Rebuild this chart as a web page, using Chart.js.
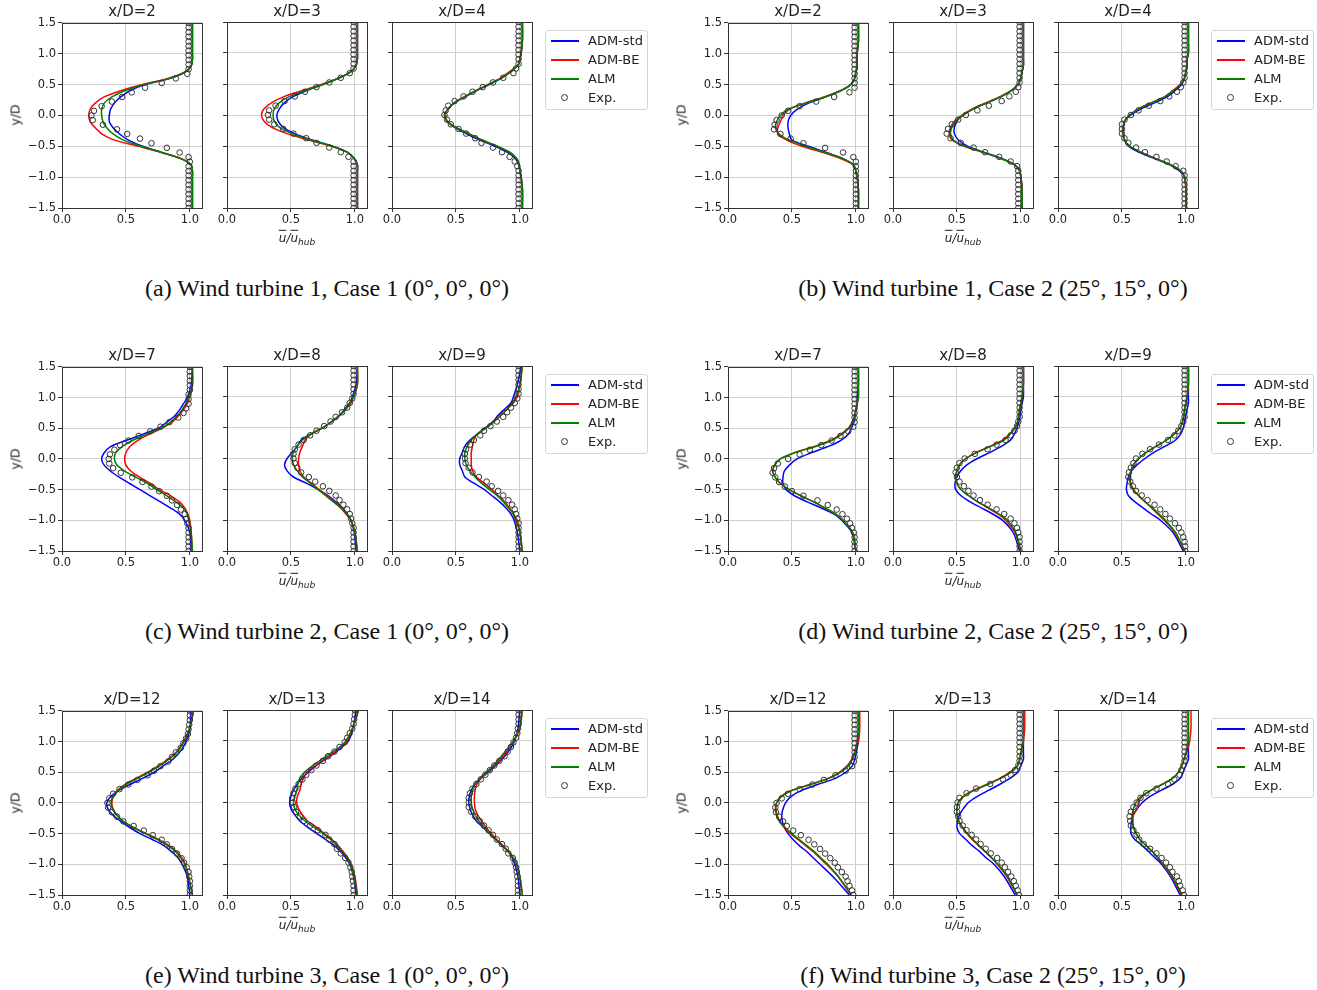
<!DOCTYPE html>
<html>
<head>
<meta charset="utf-8">
<script src="https://cdn.jsdelivr.net/npm/chart.js@4.4.1/dist/chart.umd.min.js"></script>
<style>
  body { margin: 0; background: #fff; width: 1317px; height: 990px; overflow: hidden; }
  #fig { position: relative; width: 1317px; height: 990px; }
  #fig canvas { position: absolute; }
  .lbl { position: absolute; transform: translate(-50%, -50%); white-space: nowrap; color: #222; font-family: "DejaVu Sans", sans-serif; }
  .title { font-size: 15px; }
  .ylab { font-size: 12.5px; transform: translate(-50%, -50%) rotate(-90deg); }
  .xlab { font-size: 12px; font-style: italic; }
  .xlab .ov { text-decoration: overline; }
  .xlab sub { font-size: 9px; }
  .cap { font-family: "Liberation Serif", "Times New Roman", serif; font-size: 24px; color: #111; }
  .legend { position: absolute; width: 101px; height: 78px; border: 1px solid #d6d6d6; border-radius: 3px; background: #fff; font-family: "DejaVu Sans", sans-serif; font-size: 13px; color: #222; }
  .legend .row { position: absolute; left: 0; height: 18px; width: 100%; }
  .legend .ln { position: absolute; left: 5px; width: 28px; height: 2px; top: 8px; }
  .legend .mk { position: absolute; left: 15px; top: 5px; width: 5px; height: 5px; border: 1px solid #333; border-radius: 50%; }
  .legend .tx { position: absolute; left: 42px; top: 0; line-height: 18px; }
</style>
</head>
<body>
<div id="fig"></div>
<script>
// series and axes
const seriesNames = ['ADM-std', 'ADM-BE', 'ALM', 'Exp.'];
const seriesColors = ['#0000ff', '#ff0000', '#008000', '#333333'];
const xTicks = [0, 0.5, 1.0];
const xTickLabels = ['0.0', '0.5', '1.0'];
const yTicks = [-1.5, -1.0, -0.5, 0, 0.5, 1.0, 1.5];
const yTickLabels = ['\u22121.5', '\u22121.0', '\u22120.5', '0.0', '0.5', '1.0', '1.5'];
const xMax = 1.095;

// y positions (y/D) of the simulated profiles and of the measurements
const lineY = [1.5, 1.2, 1.0, 0.9, 0.8, 0.7, 0.6, 0.5, 0.4, 0.3, 0.2, 0.1, 0.0,
  -0.1, -0.2, -0.3, -0.4, -0.5, -0.6, -0.7, -0.8, -0.9, -1.0, -1.2, -1.5];
const expY = [1.5, 1.425, 1.35, 1.275, 1.2, 1.125, 1.05, 0.975, 0.9, 0.825, 0.75, 0.675, 0.6, 0.525,
  0.45, 0.375, 0.3, 0.225, 0.15, 0.075, 0, -0.075, -0.15, -0.225, -0.3, -0.375, -0.45, -0.525,
  -0.6, -0.675, -0.75, -0.825, -0.9, -0.975, -1.05, -1.125, -1.2, -1.275, -1.35, -1.425, -1.5];

// (a) turbine 1, case 1
const a2Std = [1.02,1.02,1.02,1.02,1.01,0.96,0.84,0.65,0.53,0.46,0.41,0.38,0.37,0.37,0.40,0.45,0.52,0.63,0.78,0.93,1.01,1.02,1.02,1.02,1.02];
const a2Be  = [1.02,1.02,1.02,1.02,1.01,0.96,0.83,0.63,0.46,0.33,0.26,0.22,0.21,0.22,0.26,0.31,0.41,0.60,0.78,0.93,1.01,1.02,1.02,1.02,1.02];
const a2Alm = [1.02,1.02,1.02,1.02,1.01,0.96,0.84,0.64,0.49,0.39,0.33,0.31,0.31,0.32,0.35,0.40,0.48,0.62,0.78,0.93,1.01,1.02,1.02,1.02,1.02];
const a2Exp = [0.99,0.99,0.99,0.99,0.99,0.99,0.99,0.99,0.99,0.99,0.99,0.98,0.89,0.78,0.65,0.545,0.47,0.39,0.31,0.25,0.23,0.24,0.32,0.43,0.51,0.61,0.70,0.82,0.92,0.99,1.0,0.99,0.99,0.99,0.99,0.99,0.99,0.99,0.99,0.99,0.99];
const a3Std = [1.02,1.02,1.02,1.02,1.01,0.97,0.88,0.76,0.63,0.52,0.45,0.41,0.39,0.40,0.44,0.53,0.66,0.82,0.94,0.995,1.02,1.02,1.02,1.02,1.02];
const a3Be  = [1.02,1.02,1.02,1.02,1.01,0.97,0.88,0.75,0.60,0.45,0.35,0.29,0.27,0.29,0.35,0.47,0.63,0.81,0.94,0.995,1.02,1.02,1.02,1.02,1.02];
const a3Alm = [1.02,1.02,1.02,1.02,1.01,0.97,0.88,0.76,0.62,0.49,0.41,0.37,0.36,0.37,0.41,0.51,0.65,0.82,0.94,0.995,1.02,1.02,1.02,1.02,1.02];
const a3Exp = [0.99,0.99,0.99,0.99,0.99,0.99,0.99,0.99,0.99,0.99,0.99,0.96,0.89,0.80,0.70,0.61,0.53,0.45,0.38,0.33,0.32,0.33,0.37,0.44,0.52,0.62,0.70,0.80,0.89,0.95,0.99,0.99,0.99,0.99,0.99,0.99,0.99,0.99,0.99,0.99,0.99];
const a4Std = [1.02,1.02,1.01,1.0,0.985,0.93,0.86,0.77,0.67,0.58,0.49,0.44,0.41,0.43,0.49,0.58,0.68,0.80,0.90,0.965,0.99,1.0,1.01,1.02,1.02];
const a4Be  = [1.02,1.02,1.01,1.0,0.985,0.92,0.85,0.76,0.66,0.57,0.49,0.44,0.41,0.43,0.50,0.60,0.70,0.82,0.92,0.975,0.995,1.0,1.01,1.02,1.02];
const a4Alm = [1.02,1.02,1.01,1.0,0.985,0.93,0.86,0.765,0.665,0.575,0.49,0.44,0.415,0.435,0.50,0.60,0.70,0.82,0.92,0.975,0.995,1.0,1.01,1.02,1.02];
const a4Exp = [0.99,0.99,0.99,0.99,0.99,0.99,0.99,0.99,0.99,0.99,0.97,0.95,0.87,0.79,0.71,0.63,0.56,0.49,0.44,0.42,0.41,0.43,0.46,0.52,0.58,0.65,0.70,0.79,0.86,0.92,0.96,0.98,0.99,0.99,0.99,0.99,0.99,0.99,0.99,0.99,0.99];

// (b) turbine 1, case 2
const b2Std = [1.02,1.02,1.01,1.01,1.01,1.0,0.99,0.96,0.88,0.76,0.63,0.54,0.49,0.47,0.47,0.48,0.50,0.63,0.77,0.90,0.98,1.0,1.01,1.02,1.02];
const b2Be  = [1.02,1.02,1.01,1.01,1.01,1.0,0.99,0.96,0.88,0.75,0.60,0.48,0.43,0.41,0.39,0.39,0.46,0.58,0.74,0.88,0.98,1.0,1.01,1.02,1.02];
const b2Alm = [1.02,1.02,1.01,1.01,1.01,1.0,0.99,0.96,0.88,0.76,0.61,0.47,0.41,0.38,0.37,0.40,0.48,0.61,0.76,0.90,0.98,1.0,1.01,1.02,1.02];
const b2Exp = [0.99,0.99,0.99,0.99,0.99,0.99,0.99,0.99,0.99,0.99,0.99,0.99,0.99,0.99,0.99,0.95,0.83,0.69,0.56,0.47,0.42,0.38,0.365,0.36,0.41,0.49,0.59,0.76,0.90,0.98,1.0,1.0,1.0,1.0,1.0,1.0,1.0,1.0,1.0,1.0,1.0];
const b3Std = [1.02,1.02,1.02,1.02,1.02,1.01,1.0,0.98,0.93,0.85,0.74,0.63,0.55,0.50,0.48,0.48,0.51,0.58,0.71,0.85,0.95,0.99,1.0,1.01,1.01];
const b3Be  = [1.02,1.02,1.02,1.02,1.02,1.01,1.0,0.98,0.93,0.84,0.73,0.62,0.54,0.48,0.45,0.44,0.46,0.55,0.70,0.84,0.95,0.99,1.0,1.01,1.01];
const b3Alm = [1.02,1.02,1.02,1.02,1.02,1.01,1.0,0.98,0.93,0.85,0.74,0.63,0.55,0.49,0.46,0.45,0.47,0.56,0.70,0.84,0.95,0.99,1.0,1.01,1.01];
const b3Exp = [0.99,0.99,0.99,0.99,0.99,0.99,0.99,0.99,0.99,0.99,0.99,0.99,0.99,0.99,0.98,0.96,0.91,0.85,0.75,0.66,0.57,0.51,0.46,0.43,0.42,0.45,0.53,0.63,0.72,0.83,0.92,0.97,0.98,0.98,0.98,0.98,0.98,0.98,0.98,0.98,0.98];
const b4Std = [1.02,1.02,1.02,1.01,1.01,1.0,0.99,0.97,0.92,0.86,0.76,0.65,0.57,0.52,0.51,0.51,0.52,0.55,0.63,0.75,0.87,0.95,0.99,1.0,1.0];
const b4Be  = [1.02,1.02,1.02,1.01,1.01,1.0,0.99,0.96,0.90,0.84,0.73,0.63,0.56,0.52,0.51,0.51,0.52,0.56,0.65,0.76,0.88,0.96,0.99,1.0,1.0];
const b4Alm = [1.02,1.02,1.02,1.01,1.01,1.0,0.99,0.96,0.91,0.84,0.74,0.63,0.56,0.52,0.51,0.51,0.52,0.56,0.65,0.76,0.88,0.96,0.99,1.0,1.0];
const b4Exp = [0.99,0.99,0.99,0.99,0.99,0.99,0.99,0.99,0.99,0.99,0.99,0.99,0.99,0.98,0.96,0.93,0.87,0.80,0.71,0.63,0.57,0.52,0.50,0.50,0.50,0.52,0.55,0.61,0.68,0.77,0.85,0.92,0.98,0.99,0.99,0.99,0.99,0.99,0.99,0.99,0.99];

// (c) turbine 2, case 1
const c7Std = [1.02,1.01,0.98,0.95,0.92,0.88,0.82,0.75,0.63,0.50,0.38,0.33,0.31,0.33,0.38,0.45,0.53,0.61,0.69,0.77,0.85,0.92,0.96,1.0,1.01];
const c7Be  = [1.02,1.02,0.995,0.98,0.95,0.91,0.86,0.78,0.68,0.59,0.53,0.50,0.49,0.50,0.54,0.61,0.69,0.76,0.85,0.92,0.96,0.985,1.0,1.01,1.02];
const c7Alm = [1.02,1.02,0.99,0.97,0.94,0.90,0.85,0.77,0.66,0.55,0.47,0.42,0.41,0.43,0.49,0.58,0.67,0.74,0.82,0.89,0.95,0.98,0.99,1.01,1.02];
const c7Exp = [1.0,1.0,1.0,1.0,1.0,1.0,0.99,0.99,0.99,0.97,0.95,0.91,0.84,0.77,0.69,0.60,0.52,0.455,0.41,0.375,0.365,0.37,0.40,0.46,0.55,0.63,0.70,0.76,0.82,0.86,0.90,0.93,0.96,0.97,0.98,0.99,0.99,0.99,0.99,0.99,0.99];
const c8Std = [1.02,1.01,0.98,0.96,0.92,0.88,0.82,0.75,0.66,0.58,0.55,0.51,0.47,0.45,0.47,0.52,0.62,0.71,0.79,0.85,0.90,0.94,0.97,0.995,1.01];
const c8Be  = [1.02,1.02,0.99,0.97,0.93,0.88,0.82,0.75,0.66,0.61,0.59,0.57,0.56,0.56,0.57,0.60,0.66,0.72,0.78,0.84,0.89,0.93,0.97,1.0,1.02];
const c8Alm = [1.02,1.02,0.99,0.96,0.93,0.88,0.82,0.75,0.66,0.59,0.55,0.52,0.51,0.52,0.55,0.59,0.65,0.71,0.77,0.83,0.89,0.94,0.97,1.0,1.02];
const c8Exp = [0.99,0.99,0.99,0.99,0.99,0.99,0.99,0.98,0.96,0.94,0.90,0.85,0.81,0.76,0.70,0.65,0.60,0.56,0.53,0.52,0.52,0.53,0.55,0.58,0.64,0.69,0.75,0.80,0.85,0.88,0.91,0.94,0.96,0.97,0.98,0.99,0.99,0.99,0.99,0.99,0.99];
const c9Std = [1.01,0.98,0.95,0.93,0.88,0.83,0.79,0.73,0.67,0.61,0.57,0.55,0.53,0.53,0.55,0.57,0.64,0.72,0.78,0.84,0.89,0.93,0.955,0.98,1.0];
const c9Be  = [1.02,1.0,0.98,0.95,0.90,0.85,0.80,0.74,0.67,0.64,0.63,0.62,0.62,0.62,0.63,0.66,0.72,0.78,0.83,0.88,0.92,0.95,0.98,1.0,1.02];
const c9Alm = [1.02,1.0,0.97,0.94,0.90,0.85,0.80,0.74,0.67,0.62,0.59,0.57,0.57,0.58,0.61,0.65,0.70,0.76,0.82,0.87,0.91,0.95,0.97,1.0,1.02];
const c9Exp = [0.99,0.99,0.99,0.99,0.99,0.99,0.99,0.98,0.96,0.93,0.90,0.87,0.82,0.77,0.72,0.69,0.64,0.61,0.58,0.57,0.57,0.575,0.60,0.63,0.68,0.74,0.78,0.83,0.87,0.91,0.94,0.96,0.97,0.98,0.99,0.99,0.99,0.99,0.99,0.99,0.99];

// (d) turbine 2, case 2
const d7Std = [1.02,1.02,1.01,1.01,1.0,0.995,0.985,0.965,0.94,0.88,0.78,0.65,0.54,0.48,0.44,0.43,0.43,0.455,0.52,0.62,0.73,0.83,0.89,0.97,1.0];
const d7Be  = [1.02,1.02,1.02,1.01,1.0,0.99,0.97,0.94,0.88,0.80,0.67,0.52,0.41,0.365,0.35,0.37,0.41,0.48,0.57,0.67,0.76,0.84,0.90,0.975,1.0];
const d7Alm = [1.02,1.02,1.02,1.01,1.0,0.99,0.975,0.945,0.89,0.81,0.68,0.52,0.41,0.365,0.35,0.37,0.41,0.48,0.57,0.67,0.76,0.845,0.90,0.975,1.0];
const d7Exp = [0.99,0.99,0.99,0.99,0.99,0.99,0.99,0.99,0.99,0.99,0.99,0.99,0.99,0.98,0.94,0.88,0.81,0.73,0.64,0.56,0.47,0.39,0.36,0.35,0.37,0.40,0.445,0.50,0.59,0.70,0.78,0.85,0.895,0.93,0.955,0.97,0.985,0.99,0.99,0.99,0.99];
const d8Std = [1.02,1.02,1.02,1.01,1.0,0.995,0.985,0.97,0.95,0.92,0.85,0.76,0.66,0.58,0.53,0.50,0.485,0.49,0.53,0.60,0.69,0.78,0.855,0.94,0.99];
const d8Be  = [1.02,1.02,1.01,1.0,0.99,0.985,0.975,0.955,0.915,0.86,0.76,0.65,0.57,0.52,0.50,0.49,0.50,0.53,0.59,0.66,0.74,0.82,0.88,0.955,1.0];
const d8Alm = [1.02,1.02,1.01,1.0,0.99,0.985,0.975,0.955,0.92,0.87,0.77,0.66,0.57,0.52,0.50,0.49,0.50,0.53,0.59,0.66,0.75,0.83,0.895,0.96,1.0];
const d8Exp = [0.99,0.99,0.99,0.99,0.99,0.99,0.99,0.99,0.99,0.99,0.99,0.99,0.98,0.97,0.95,0.92,0.88,0.81,0.74,0.64,0.56,0.52,0.50,0.49,0.50,0.52,0.555,0.59,0.63,0.68,0.74,0.81,0.87,0.92,0.95,0.97,0.98,0.99,0.99,0.99,0.99];
const d9Std = [1.02,1.02,1.02,1.02,1.01,1.0,0.99,0.98,0.96,0.92,0.84,0.75,0.68,0.62,0.575,0.55,0.54,0.535,0.55,0.60,0.665,0.73,0.80,0.90,0.98];
const d9Be  = [1.02,1.02,1.01,1.0,0.99,0.985,0.975,0.955,0.91,0.85,0.77,0.69,0.63,0.59,0.57,0.565,0.57,0.59,0.63,0.68,0.73,0.78,0.83,0.915,0.99];
const d9Alm = [1.02,1.02,1.01,1.0,0.99,0.985,0.975,0.955,0.91,0.85,0.77,0.69,0.63,0.59,0.57,0.56,0.565,0.585,0.63,0.68,0.74,0.79,0.84,0.92,0.99];
const d9Exp = [0.99,0.99,0.99,0.99,0.99,0.99,0.99,0.99,0.99,0.99,0.99,0.99,0.98,0.965,0.94,0.91,0.86,0.79,0.72,0.66,0.61,0.59,0.57,0.555,0.55,0.565,0.585,0.61,0.655,0.70,0.755,0.80,0.84,0.875,0.915,0.945,0.965,0.98,0.99,0.995,0.995];

// (e) turbine 3, case 1
const e12Std = [1.01,1.0,0.97,0.945,0.91,0.86,0.79,0.72,0.63,0.53,0.44,0.38,0.35,0.36,0.40,0.46,0.53,0.61,0.71,0.80,0.86,0.91,0.94,0.98,1.0];
const e12Be  = [1.03,0.995,0.95,0.92,0.88,0.82,0.75,0.67,0.58,0.49,0.43,0.40,0.39,0.40,0.43,0.48,0.56,0.66,0.76,0.84,0.90,0.94,0.965,0.99,1.02];
const e12Alm = [1.03,0.995,0.955,0.925,0.885,0.83,0.76,0.68,0.59,0.50,0.44,0.40,0.385,0.395,0.43,0.48,0.56,0.65,0.75,0.83,0.89,0.93,0.96,0.99,1.02];
const e12Exp = [1.0,1.0,1.0,0.995,0.99,0.985,0.97,0.95,0.93,0.89,0.86,0.83,0.77,0.72,0.67,0.59,0.52,0.45,0.40,0.37,0.355,0.36,0.39,0.43,0.48,0.56,0.64,0.71,0.78,0.82,0.86,0.90,0.935,0.955,0.975,0.99,0.995,1.0,1.0,1.0,1.0];
const e13Std = [1.01,0.985,0.95,0.90,0.84,0.77,0.70,0.64,0.59,0.55,0.52,0.50,0.49,0.50,0.53,0.57,0.63,0.70,0.77,0.84,0.89,0.93,0.96,0.99,1.01];
const e13Be  = [1.03,0.98,0.94,0.89,0.83,0.76,0.69,0.63,0.60,0.58,0.57,0.55,0.545,0.56,0.59,0.63,0.70,0.76,0.82,0.87,0.91,0.945,0.97,1.0,1.02];
const e13Alm = [1.03,0.98,0.93,0.88,0.81,0.74,0.67,0.61,0.57,0.555,0.545,0.53,0.52,0.53,0.56,0.61,0.68,0.75,0.81,0.86,0.90,0.94,0.965,0.99,1.02];
const e13Exp = [1.0,1.0,0.995,0.99,0.98,0.96,0.94,0.92,0.88,0.84,0.79,0.75,0.70,0.66,0.62,0.59,0.56,0.535,0.52,0.51,0.515,0.525,0.54,0.57,0.60,0.65,0.71,0.77,0.80,0.84,0.86,0.89,0.925,0.95,0.965,0.975,0.98,0.985,0.99,0.99,0.99];
const e14Std = [1.0,0.985,0.96,0.935,0.90,0.86,0.81,0.76,0.70,0.65,0.62,0.605,0.60,0.61,0.63,0.66,0.71,0.76,0.81,0.86,0.91,0.94,0.96,0.985,1.0];
const e14Be  = [1.02,1.0,0.955,0.92,0.89,0.85,0.80,0.75,0.70,0.665,0.65,0.645,0.645,0.65,0.67,0.70,0.735,0.775,0.82,0.87,0.915,0.95,0.975,1.0,1.02];
const e14Alm = [1.02,0.995,0.95,0.915,0.875,0.835,0.79,0.74,0.69,0.65,0.63,0.62,0.62,0.63,0.65,0.68,0.72,0.765,0.815,0.865,0.91,0.95,0.975,1.0,1.02];
const e14Exp = [0.99,0.99,0.99,0.99,0.985,0.98,0.97,0.95,0.93,0.905,0.88,0.84,0.80,0.765,0.73,0.695,0.66,0.63,0.61,0.60,0.60,0.60,0.62,0.65,0.685,0.72,0.755,0.79,0.82,0.86,0.89,0.91,0.945,0.96,0.97,0.975,0.98,0.985,0.985,0.985,0.985];

// (f) turbine 3, case 2
const f12Std = [1.02,1.02,1.02,1.01,1.0,0.99,0.97,0.92,0.84,0.70,0.57,0.49,0.45,0.43,0.42,0.425,0.44,0.47,0.51,0.56,0.62,0.67,0.72,0.82,0.95];
const f12Be  = [1.03,1.03,1.02,1.0,0.985,0.965,0.93,0.87,0.78,0.64,0.49,0.41,0.38,0.375,0.385,0.405,0.44,0.49,0.55,0.61,0.67,0.72,0.77,0.86,0.96];
const f12Alm = [1.02,1.02,1.01,1.0,0.99,0.97,0.94,0.88,0.79,0.65,0.50,0.415,0.38,0.37,0.38,0.40,0.445,0.50,0.56,0.62,0.68,0.73,0.78,0.865,0.965];
const f12Exp = [0.99,0.99,0.99,0.99,0.99,0.99,0.99,0.99,0.99,0.99,0.99,0.985,0.97,0.92,0.84,0.75,0.66,0.56,0.47,0.42,0.38,0.37,0.375,0.40,0.43,0.46,0.51,0.57,0.63,0.675,0.72,0.76,0.80,0.835,0.86,0.89,0.92,0.935,0.95,0.97,0.98];
const f13Std = [1.02,1.02,1.02,1.02,1.02,1.02,1.0,0.98,0.92,0.84,0.75,0.66,0.59,0.55,0.52,0.505,0.50,0.52,0.57,0.62,0.68,0.73,0.79,0.87,0.955];
const f13Be  = [1.03,1.03,1.02,1.01,1.0,0.99,0.975,0.92,0.84,0.74,0.63,0.55,0.51,0.50,0.50,0.515,0.54,0.575,0.62,0.67,0.72,0.77,0.815,0.89,0.97];
const f13Alm = [1.02,1.02,1.02,1.01,1.0,0.99,0.975,0.93,0.85,0.75,0.64,0.555,0.51,0.50,0.50,0.515,0.545,0.58,0.625,0.675,0.725,0.775,0.82,0.895,0.97];
const f13Exp = [0.99,0.99,0.99,0.99,0.99,0.99,0.99,0.99,0.99,0.99,0.99,0.99,0.98,0.955,0.92,0.86,0.76,0.65,0.575,0.52,0.505,0.50,0.50,0.51,0.52,0.545,0.575,0.615,0.65,0.685,0.725,0.765,0.815,0.85,0.875,0.90,0.925,0.945,0.96,0.975,0.985];
const f14Std = [1.02,1.02,1.02,1.02,1.02,1.02,1.0,0.98,0.96,0.90,0.81,0.72,0.66,0.62,0.59,0.575,0.57,0.57,0.60,0.66,0.71,0.76,0.81,0.88,0.955];
const f14Be  = [1.04,1.04,1.03,1.02,1.0,0.985,0.97,0.945,0.90,0.82,0.73,0.66,0.63,0.62,0.59,0.585,0.59,0.61,0.64,0.69,0.74,0.78,0.82,0.89,0.965];
const f14Alm = [1.02,1.02,1.02,1.01,1.0,0.985,0.97,0.945,0.90,0.82,0.73,0.65,0.61,0.59,0.58,0.58,0.59,0.61,0.64,0.69,0.74,0.785,0.825,0.895,0.97];
const f14Exp = [0.99,0.99,0.99,0.99,0.99,0.99,0.99,0.99,0.99,0.99,0.99,0.99,0.98,0.965,0.95,0.91,0.86,0.77,0.69,0.645,0.615,0.59,0.57,0.56,0.565,0.57,0.59,0.615,0.635,0.67,0.72,0.77,0.81,0.845,0.875,0.895,0.93,0.945,0.955,0.975,0.985];

const captions = [
  '(a) Wind turbine 1, Case 1 (0\u00b0, 0\u00b0, 0\u00b0)',
  '(b) Wind turbine 1, Case 2 (25\u00b0, 15\u00b0, 0\u00b0)',
  '(c) Wind turbine 2, Case 1 (0\u00b0, 0\u00b0, 0\u00b0)',
  '(d) Wind turbine 2, Case 2 (25\u00b0, 15\u00b0, 0\u00b0)',
  '(e) Wind turbine 3, Case 1 (0\u00b0, 0\u00b0, 0\u00b0)',
  '(f) Wind turbine 3, Case 2 (25\u00b0, 15\u00b0, 0\u00b0)'
];
const stationsRow1 = [2, 3, 4];
const stationsRow2 = [7, 8, 9];
const stationsRow3 = [12, 13, 14];

const panels = [
  { row: 0, side: 0, stations: stationsRow1, sets: [[a2Std, a2Be, a2Alm, a2Exp], [a3Std, a3Be, a3Alm, a3Exp], [a4Std, a4Be, a4Alm, a4Exp]] },
  { row: 0, side: 1, stations: stationsRow1, sets: [[b2Std, b2Be, b2Alm, b2Exp], [b3Std, b3Be, b3Alm, b3Exp], [b4Std, b4Be, b4Alm, b4Exp]] },
  { row: 1, side: 0, stations: stationsRow2, sets: [[c7Std, c7Be, c7Alm, c7Exp], [c8Std, c8Be, c8Alm, c8Exp], [c9Std, c9Be, c9Alm, c9Exp]] },
  { row: 1, side: 1, stations: stationsRow2, sets: [[d7Std, d7Be, d7Alm, d7Exp], [d8Std, d8Be, d8Alm, d8Exp], [d9Std, d9Be, d9Alm, d9Exp]] },
  { row: 2, side: 0, stations: stationsRow3, sets: [[e12Std, e12Be, e12Alm, e12Exp], [e13Std, e13Be, e13Alm, e13Exp], [e14Std, e14Be, e14Alm, e14Exp]] },
  { row: 2, side: 1, stations: stationsRow3, sets: [[f12Std, f12Be, f12Alm, f12Exp], [f13Std, f13Be, f13Alm, f13Exp], [f14Std, f14Be, f14Alm, f14Exp]] }
];

// layout (pixels)
const rowTop = [22, 366, 710];
const rowH = [186, 185, 185];
const colLeft = [[62, 227, 392], [728, 893, 1058]];
const plotW = 140;
const padL = 40, padT = 8, padR = 8, padB = 24;
const tickFont = { family: 'DejaVu Sans', size: 11.5 };

const fig = document.getElementById('fig');

function addLabel(html, x, y, cls) {
  const d = document.createElement('div');
  d.className = 'lbl ' + cls;
  d.innerHTML = html;
  d.style.left = x + 'px';
  d.style.top = y + 'px';
  fig.appendChild(d);
}

function addLegend(x, y) {
  const box = document.createElement('div');
  box.className = 'legend';
  box.style.left = x + 'px';
  box.style.top = y + 'px';
  seriesNames.forEach((name, i) => {
    const row = document.createElement('div');
    row.className = 'row';
    row.style.top = (1 + i * 19) + 'px';
    const sample = document.createElement('div');
    if (i < 3) {
      sample.className = 'ln';
      sample.style.background = seriesColors[i];
    } else {
      sample.className = 'mk';
    }
    const tx = document.createElement('div');
    tx.className = 'tx';
    tx.textContent = name;
    row.appendChild(sample);
    row.appendChild(tx);
    box.appendChild(row);
  });
  fig.appendChild(box);
}

// full box round the plot, like matplotlib spines
const framePlugin = {
  id: 'frame',
  afterDatasetsDraw(chart) {
    const a = chart.chartArea;
    const ctx = chart.ctx;
    ctx.save();
    ctx.strokeStyle = '#333';
    ctx.lineWidth = 1;
    ctx.strokeRect(Math.round(a.left) + 0.5, Math.round(a.top) + 0.5, Math.round(a.right - a.left), Math.round(a.bottom - a.top));
    ctx.restore();
  }
};

function pts(xs, ys) {
  return xs.map((x, i) => ({ x: x, y: ys[i] }));
}

function makeSubplot(left, top, h, set, showY) {
  const cv = document.createElement('canvas');
  const w = padL + plotW + padR;
  const ht = padT + h + padB;
  cv.width = w;
  cv.height = ht;
  cv.style.width = w + 'px';
  cv.style.height = ht + 'px';
  cv.style.left = (left - padL) + 'px';
  cv.style.top = (top - padT) + 'px';
  fig.appendChild(cv);

  const lines = [0, 1, 2].map(i => ({
    label: seriesNames[i],
    data: pts(set[i], lineY),
    showLine: true,
    borderColor: seriesColors[i],
    backgroundColor: seriesColors[i],
    borderWidth: 1.5,
    pointRadius: 0,
    tension: 0.3,
    order: 3 - i
  }));
  const exp = {
    label: seriesNames[3],
    data: pts(set[3], expY),
    showLine: false,
    pointRadius: 2.8,
    pointBorderWidth: 1,
    pointBorderColor: seriesColors[3],
    pointBackgroundColor: 'rgba(255,255,255,0)',
    order: 0
  };

  new Chart(cv, {
    type: 'scatter',
    data: { datasets: lines.concat([exp]) },
    options: {
      responsive: false,
      animation: false,
      devicePixelRatio: 1,
      events: [],
      layout: { padding: { top: padT, right: padR, left: 0, bottom: 0 } },
      plugins: { legend: { display: false }, tooltip: { enabled: false } },
      scales: {
        x: {
          type: 'linear', min: 0, max: xMax,
          afterBuildTicks: s => { s.ticks = xTicks.map(v => ({ value: v })); },
          afterFit: s => { s.height = padB; },
          ticks: { callback: (v, i) => xTickLabels[i], font: tickFont, color: '#222', padding: 1, maxRotation: 0, autoSkip: false },
          grid: { color: '#cfcfcf', tickColor: '#333', tickLength: 4, lineWidth: 1 },
          border: { display: false }
        },
        y: {
          type: 'linear', min: -1.5, max: 1.5,
          afterBuildTicks: s => { s.ticks = yTicks.map(v => ({ value: v })); },
          afterFit: s => { s.width = padL; },
          ticks: { display: showY, callback: (v, i) => yTickLabels[i], font: tickFont, color: '#222', padding: 2, autoSkip: false },
          grid: { color: '#cfcfcf', tickColor: '#333', tickLength: 4, lineWidth: 1 },
          border: { display: false }
        }
      }
    },
    plugins: [framePlugin]
  });
}

panels.forEach((p, k) => {
  const top = rowTop[p.row];
  const h = rowH[p.row];
  const lefts = colLeft[p.side];
  p.sets.forEach((set, j) => {
    makeSubplot(lefts[j], top, h, set, j === 0);
    addLabel('x/D=' + p.stations[j], lefts[j] + plotW / 2, top - 11, 'title');
  });
  addLabel('y/D', lefts[0] - 47, top + h / 2, 'ylab');
  addLabel('<span class="ov">u</span>/<span class="ov">u</span><sub>hub</sub>', lefts[1] + plotW / 2, top + h + 31, 'xlab');
  addLegend(lefts[2] + plotW + 13, top + 8);
  const capX = p.side === 0 ? 327 : 993;
  addLabel(captions[k], capX, top + h + 80, 'cap');
});
</script>
</body>
</html>
